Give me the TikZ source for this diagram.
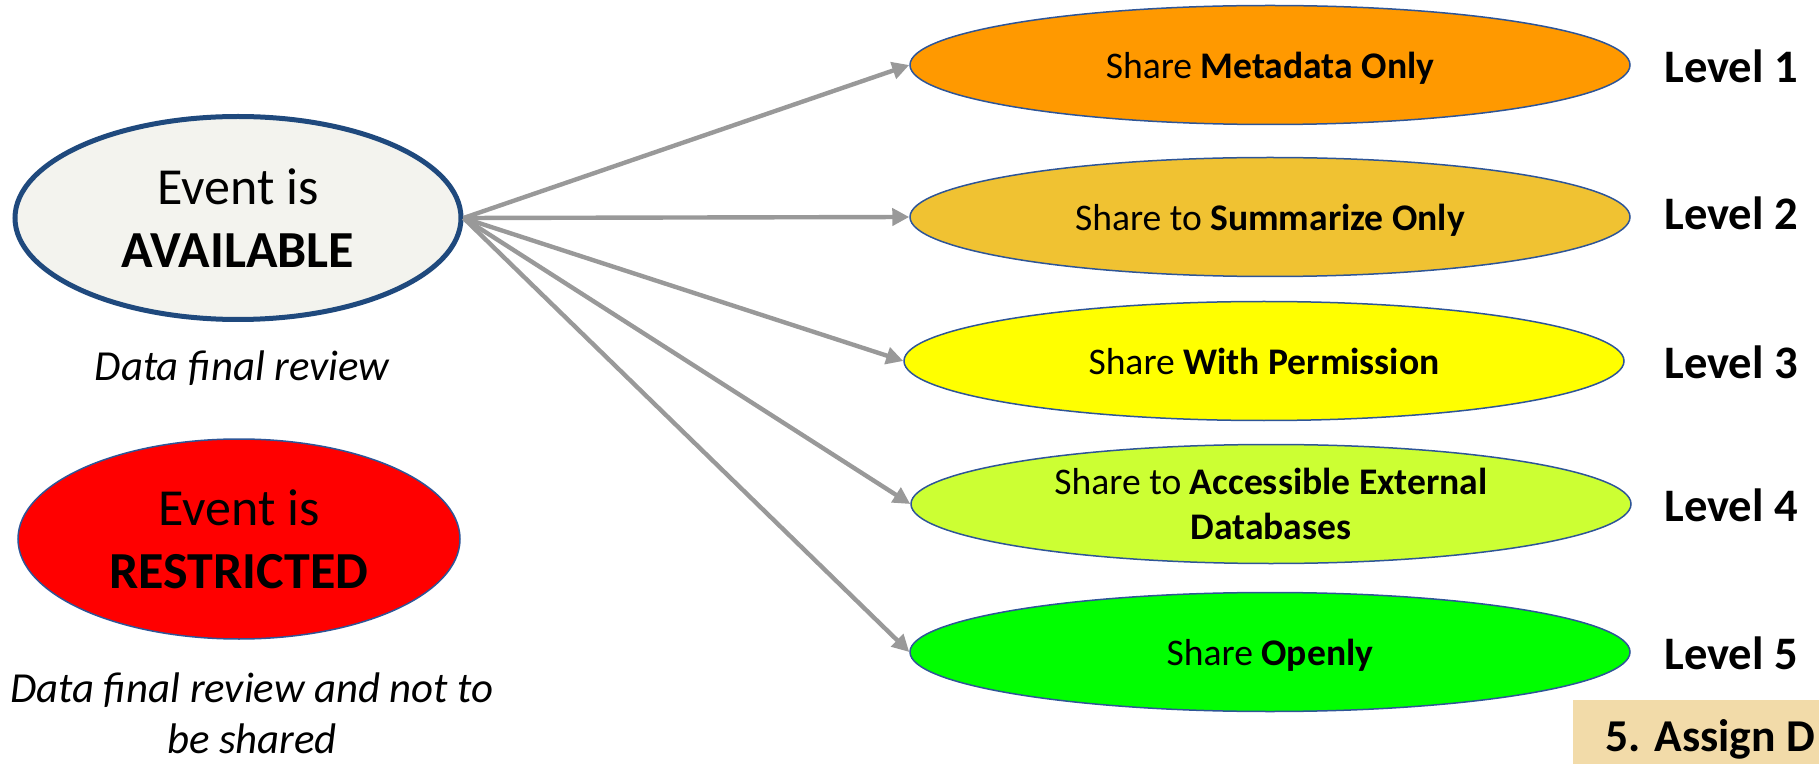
\documentclass[tikz,border=0pt]{standalone}
\usepackage{fontspec}
\setmainfont{Carlito}
\usetikzlibrary{shapes.geometric,arrows.meta}

\definecolor{availfill}{HTML}{F3F3EE}
\definecolor{availline}{HTML}{1F497D}
\definecolor{edgeblue}{HTML}{2E5597}
\definecolor{arrowgray}{HTML}{999999}
\definecolor{lvlone}{HTML}{FF9900}
\definecolor{lvltwo}{HTML}{F0C232}
\definecolor{lvlthree}{HTML}{FFFF00}
\definecolor{lvlfour}{HTML}{CCFF33}
\definecolor{lvlfive}{HTML}{00FF00}
\definecolor{steptan}{HTML}{F2DBA9}

\begin{document}
\begin{tikzpicture}[x=0.5pt,y=-0.5pt,
        event/.style={ellipse, inner sep=0pt, align=center, font=\fontsize{26}{31.5}\selectfont},
        share/.style={ellipse, draw=edgeblue, line width=0.75pt, minimum width=360pt, minimum height=59.5pt, inner sep=0pt, text depth=0pt, align=center, font=\fontsize{18.8}{22.5}\selectfont},
        lvllabel/.style={anchor=west, inner sep=0pt, font=\fontsize{23.3}{27}\selectfont\bfseries},
        remark/.style={align=center, inner sep=0pt, font=\fontsize{21.4}{25.5}\selectfont\itshape},
        fan/.style={draw=arrowgray, line width=2.2pt, -{Triangle[length=8.5pt,width=8.5pt]}}]
        \clip (0,0) rectangle (1819,764);

        % left side
        \node[event, fill=availfill, draw=availline, line width=2.5pt, minimum width=223pt, minimum height=101.5pt] (avail) at (238,218) {Event is\\\textbf{AVAILABLE}};
        \node[remark] (availnote) at (242,368) {Data final review};
        \node[event, fill=red, draw=edgeblue, line width=0.75pt, minimum width=221pt, minimum height=100pt] (restr) at (239,539) {Event is\\\textbf{RESTRICTED}};
        \node[remark] (restrnote) at (252,713) {Data final review and not to\\be shared};

        % sharing levels
        \node[share, fill=lvlone] (lvl1) at (1270,65) {Share \textbf{Metadata Only}};
        \node[share, fill=lvltwo] (lvl2) at (1270,217) {Share to \textbf{Summarize Only}};
        \node[share, fill=lvlthree] (lvl3) at (1264,361) {Share \textbf{With Permission}};
        \node[share, fill=lvlfour] (lvl4) at (1271,504) {Share to \textbf{Accessible External}\\\textbf{Databases}};
        \node[share, fill=lvlfive] (lvl5) at (1270,652) {Share \textbf{Openly}};

        \node[lvllabel] (lab1) at (1664,66) {Level 1};
        \node[lvllabel] (lab2) at (1664,213) {Level 2};
        \node[lvllabel] (lab3) at (1664,362) {Level 3};
        \node[lvllabel] (lab4) at (1664,505) {Level 4};
        \node[lvllabel] (lab5) at (1664,653) {Level 5};

        \foreach \n in {1,...,5}
            \draw[fan] (avail.east) -- (lvl\n.west);

        % step banner at the lower right edge
        \fill[steptan] (1573,700) rectangle (1830,770);
        \node[anchor=base west, inner sep=0pt, font=\fontsize{22.8}{27}\selectfont\bfseries] (stepfive) at (1605,751) {5. Assign D};
    \end{tikzpicture}
\end{document}
